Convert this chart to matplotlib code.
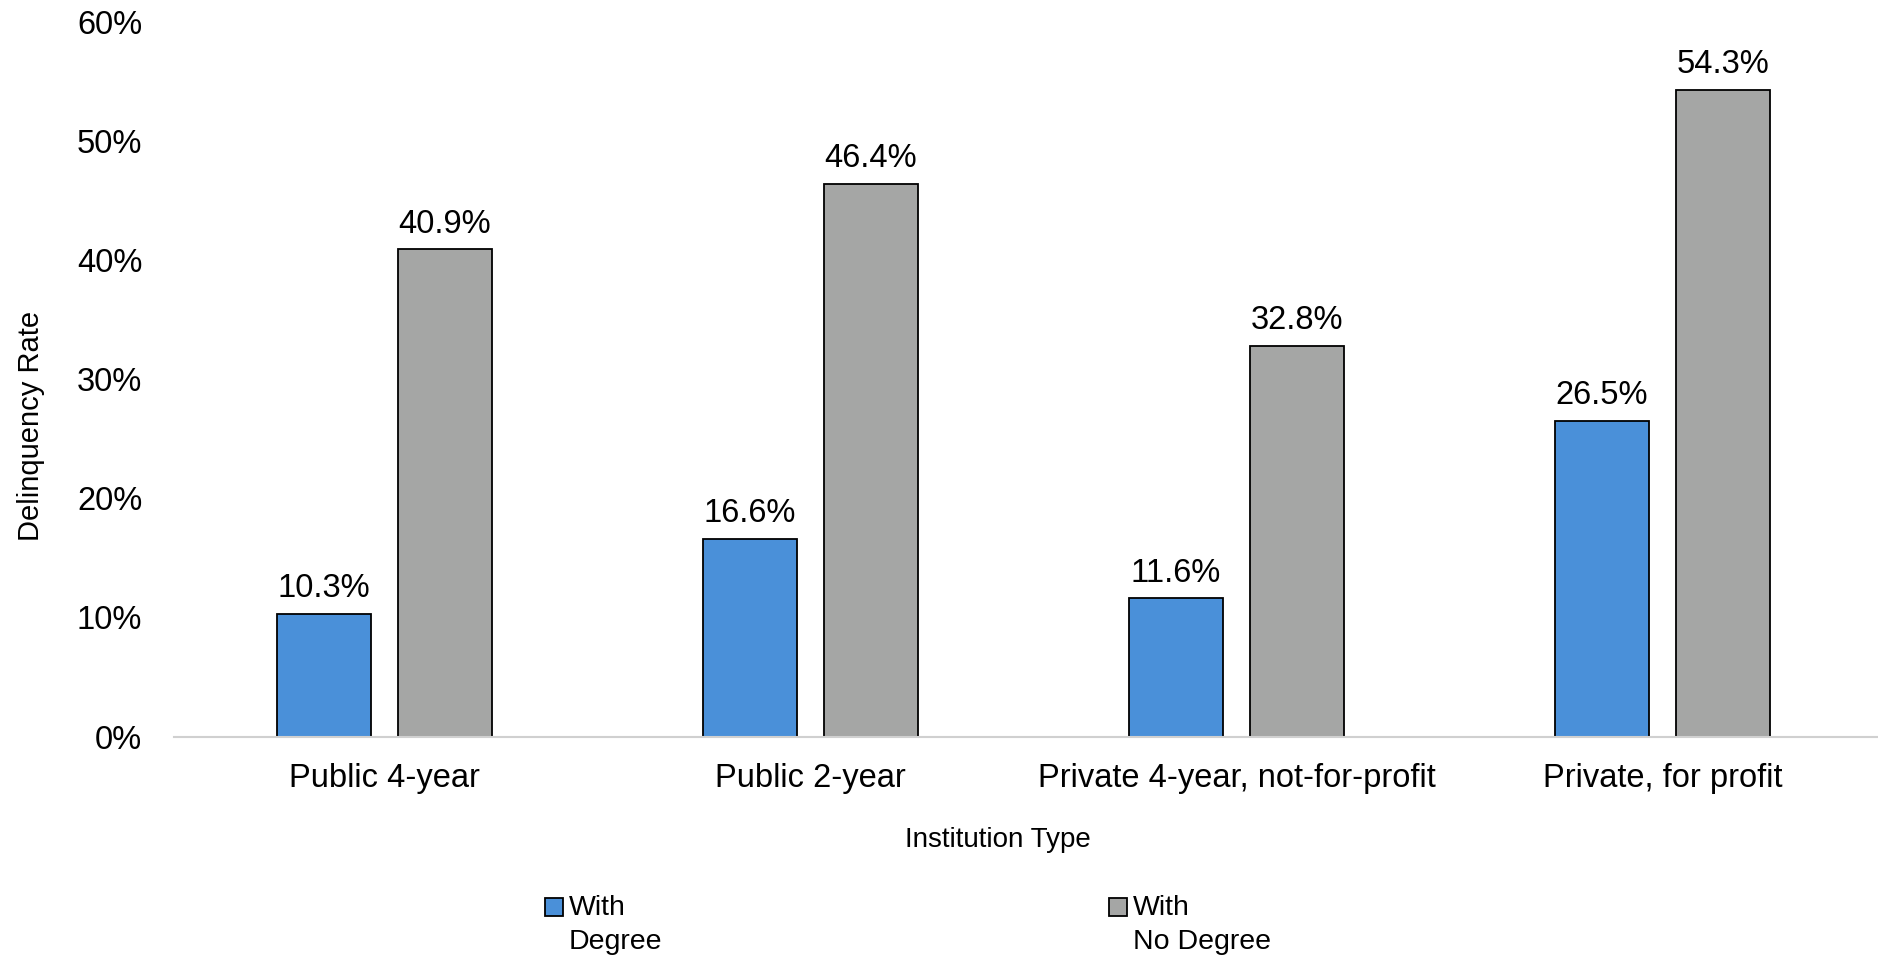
import numpy as np
import matplotlib.pyplot as plt
from matplotlib.patches import Rectangle
from matplotlib.ticker import PercentFormatter

plt.rcParams['font.family'] = ['Liberation Sans', 'DejaVu Sans']

categories = ['Public 4-year', 'Public 2-year', 'Private 4-year, not-for-profit', 'Private, for profit']
with_degree = [10.3, 16.6, 11.6, 26.5]
no_degree = [40.9, 46.4, 32.8, 54.3]
series_labels = ['With\nDegree', 'With\nNo Degree']
colors = ['#4A90D9', '#A5A6A5']

fig = plt.figure(figsize=(18.78, 9.57), dpi=100)
ax = fig.add_axes([0.0927, 0.2303, 0.9073, 0.7471])

x = np.arange(len(categories))
w = 0.222
off = 0.142
b1 = ax.bar(x - off, with_degree, w, color=colors[0], edgecolor='black', linewidth=1.3)
b2 = ax.bar(x + off, no_degree, w, color=colors[1], edgecolor='black', linewidth=1.3)

for bars in (b1, b2):
    ax.bar_label(bars, labels=[f'{v:.1f}%' for v in bars.datavalues], padding=7, fontsize=23.5)

ax.set_xlim(-0.494, len(categories) - 0.494)
ax.set_ylim(0, 60)
ax.set_yticks(np.arange(0, 61, 10))
ax.yaxis.set_major_formatter(PercentFormatter(decimals=0))
ax.set_xticks(x)
ax.set_xticklabels(categories)
ax.tick_params(axis='both', length=0, labelsize=23.5)
ax.tick_params(axis='x', pad=19)
ax.tick_params(axis='y', pad=23)

for s in ['top', 'right', 'left']:
    ax.spines[s].set_visible(False)
ax.spines['bottom'].set_color('#d0d0d0')
ax.spines['bottom'].set_linewidth(1.5)

ax.set_xlabel('Institution Type', fontsize=20, labelpad=24)
ax.xaxis.label.set_x(0.4836)
fig.text(0.0163, 0.555, 'Delinquency Rate', rotation=90, fontsize=21, va='center', ha='center')

# legend drawn by hand so the swatch sits next to the first line of each label
legend_x = [0.2902, 0.5905]
for lx, lab, col in zip(legend_x, series_labels, colors):
    fig.add_artist(Rectangle((lx, 0.0428), 0.0096, 0.0188, transform=fig.transFigure,
                             facecolor=col, edgecolor='black', linewidth=1.3))
    fig.text(lx + 0.0128, 0.0645, lab, fontsize=20.5, va='top', ha='left', linespacing=1.39)

fig.savefig('out.png', dpi=100)
